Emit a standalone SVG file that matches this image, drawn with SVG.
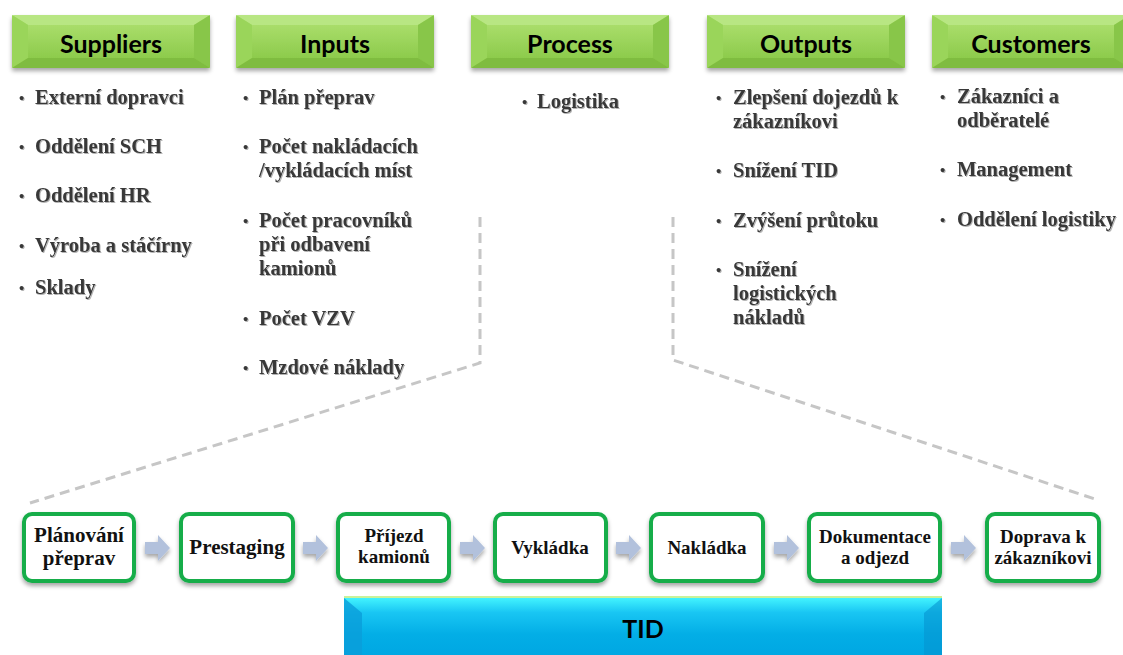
<svg xmlns="http://www.w3.org/2000/svg" xmlns:xlink="http://www.w3.org/1999/xlink" width="1123" height="655" viewBox="0 0 1123 655">
<defs>
<style>
.hdr{font-family:Lato,"Liberation Sans",Arial,sans-serif;font-weight:bold;font-size:25px;fill:#000;text-anchor:middle}
.bl{font-family:"Liberation Serif","Times New Roman",serif;font-weight:bold;font-size:20.5px;fill:#383838}
.bu{font-family:"Liberation Serif","Times New Roman",serif;font-weight:bold;font-size:15px;fill:#383838}
.bx{fill:#fff;stroke:#16ad4a;stroke-width:4}
.bt{font-family:"Liberation Serif","Times New Roman",serif;font-weight:bold;fill:#111;text-anchor:middle}
.dash{fill:none;stroke:#c6c6c6;stroke-width:3;stroke-dasharray:10 6}
.arr{fill:#b2c1dc}
</style>
<linearGradient id="gFront" x1="0" y1="0" x2="0" y2="1">
<stop offset="0" stop-color="#a9dd6a"/>
<stop offset="1" stop-color="#8dcb4c"/>
</linearGradient>
<linearGradient id="gBlue" x1="0" y1="0" x2="0" y2="1">
<stop offset="0" stop-color="#45f6ff"/>
<stop offset="0.25" stop-color="#19c6f3"/>
<stop offset="0.6" stop-color="#03aee6"/>
<stop offset="1" stop-color="#00a6e2"/>
</linearGradient>
<filter id="sh" x="-10%" y="-20%" width="120%" height="150%">
<feDropShadow dx="0" dy="3" stdDeviation="2" flood-color="#000" flood-opacity="0.35"/>
</filter>
<filter id="ts" x="-5%" y="-20%" width="110%" height="150%">
<feDropShadow dx="1" dy="1" stdDeviation="0.7" flood-color="#000" flood-opacity="0.3"/>
</filter>
<symbol id="hdrShape" overflow="visible">
<rect x="0" y="0" width="198" height="53" rx="3" fill="url(#gFront)"/>
<polygon points="0,0 198,0 182,10 16,10" fill="#b8e683"/>
<polygon points="0,0 16,10 16,43 0,53" fill="#9ad55a"/>
<polygon points="198,0 182,10 182,43 198,53" fill="#88c649"/>
<polygon points="0,53 16,43 182,43 198,53" fill="#7fbc3f"/>
<rect x="16" y="10" width="166" height="33" fill="url(#gFront)"/>
</symbol>
<path id="arrShape" d="M0,-6 H13 V-13 L25,0 L13,13 V6 H0 Z"/>
</defs>

<g id="connectors">
<path class="dash" d="M480,217 V363 L30,503"/>
<path class="dash" d="M673,217 V360 L1095,499"/>
<g filter="url(#sh)">
<use href="#arrShape" class="arr" x="145" y="548"/>
<use href="#arrShape" class="arr" x="303" y="548"/>
<use href="#arrShape" class="arr" x="460" y="548"/>
<use href="#arrShape" class="arr" x="616" y="548"/>
<use href="#arrShape" class="arr" x="774" y="548"/>
<use href="#arrShape" class="arr" x="951" y="548"/>
</g>
</g>

<g id="suppliers">
<use href="#hdrShape" x="12" y="15" filter="url(#sh)"/>
<text class="hdr" x="111" y="53">Suppliers</text>
<g filter="url(#ts)">
<text class="bu" x="19" y="103">•</text><text class="bl" x="35" y="104">Externí dopravci</text>
<text class="bu" x="19" y="152">•</text><text class="bl" x="35" y="153">Oddělení SCH</text>
<text class="bu" x="19" y="201">•</text><text class="bl" x="35" y="202">Oddělení HR</text>
<text class="bu" x="19" y="251">•</text><text class="bl" x="35" y="252">Výroba a stáčírny</text>
<text class="bu" x="19" y="293">•</text><text class="bl" x="35" y="294">Sklady</text>
</g>
</g>

<g id="inputs">
<use href="#hdrShape" x="236" y="15" filter="url(#sh)"/>
<text class="hdr" x="335" y="53">Inputs</text>
<g filter="url(#ts)">
<text class="bu" x="243" y="103">•</text><text class="bl" x="259" y="104">Plán přeprav</text>
<text class="bu" x="243" y="152">•</text><text class="bl" x="259" y="153">Počet nakládacích</text>
<text class="bl" x="259" y="177">/vykládacích míst</text>
<text class="bu" x="243" y="226">•</text><text class="bl" x="259" y="227">Počet pracovníků</text>
<text class="bl" x="259" y="251">při odbavení</text>
<text class="bl" x="259" y="275">kamionů</text>
<text class="bu" x="243" y="324">•</text><text class="bl" x="259" y="325">Počet VZV</text>
<text class="bu" x="243" y="373">•</text><text class="bl" x="259" y="374">Mzdové náklady</text>
</g>
</g>

<g id="process">
<use href="#hdrShape" x="471" y="15" filter="url(#sh)"/>
<text class="hdr" x="570" y="53">Process</text>
<g filter="url(#ts)">
<text class="bu" x="522" y="107">•</text><text class="bl" x="537" y="108">Logistika</text>
</g>
</g>

<g id="outputs">
<use href="#hdrShape" x="707" y="15" filter="url(#sh)"/>
<text class="hdr" x="806" y="53">Outputs</text>
<g filter="url(#ts)">
<text class="bu" x="716" y="103">•</text><text class="bl" x="733" y="104">Zlepšení dojezdů k</text>
<text class="bl" x="733" y="128">zákazníkovi</text>
<text class="bu" x="716" y="176">•</text><text class="bl" x="733" y="177">Snížení TID</text>
<text class="bu" x="716" y="226">•</text><text class="bl" x="733" y="227">Zvýšení průtoku</text>
<text class="bu" x="716" y="275">•</text><text class="bl" x="733" y="276">Snížení</text>
<text class="bl" x="733" y="300">logistických</text>
<text class="bl" x="733" y="324">nákladů</text>
</g>
</g>

<g id="customers">
<use href="#hdrShape" x="932" y="15" filter="url(#sh)"/>
<text class="hdr" x="1031" y="53">Customers</text>
<g filter="url(#ts)">
<text class="bu" x="940" y="102">•</text><text class="bl" x="957" y="103">Zákazníci a</text>
<text class="bl" x="957" y="127">odběratelé</text>
<text class="bu" x="940" y="175">•</text><text class="bl" x="957" y="176">Management</text>
<text class="bu" x="940" y="225">•</text><text class="bl" x="957" y="226">Oddělení logistiky</text>
</g>
</g>

<g id="step1">
<rect class="bx" x="24" y="514" width="110" height="67" rx="8" filter="url(#sh)"/>
<text class="bt" x="79" y="542" font-size="21">Plánování</text>
<text class="bt" x="79" y="565" font-size="21">přeprav</text>
</g>
<g id="step2">
<rect class="bx" x="181" y="514" width="112" height="67" rx="8" filter="url(#sh)"/>
<text class="bt" x="237" y="554" font-size="21">Prestaging</text>
</g>
<g id="step3">
<rect class="bx" x="338" y="514" width="111" height="67" rx="8" filter="url(#sh)"/>
<text class="bt" x="394" y="542" font-size="19">Příjezd</text>
<text class="bt" x="394" y="563" font-size="19">kamionů</text>
</g>
<g id="step4">
<rect class="bx" x="495" y="514" width="111" height="67" rx="8" filter="url(#sh)"/>
<text class="bt" x="550" y="554" font-size="19">Vykládka</text>
</g>
<g id="step5">
<rect class="bx" x="651" y="514" width="112" height="67" rx="8" filter="url(#sh)"/>
<text class="bt" x="707" y="554" font-size="19">Nakládka</text>
</g>
<g id="step6">
<rect class="bx" x="809" y="514" width="131" height="67" rx="8" filter="url(#sh)"/>
<text class="bt" x="875" y="543" font-size="19">Dokumentace</text>
<text class="bt" x="875" y="564" font-size="19">a odjezd</text>
</g>
<g id="step7">
<rect class="bx" x="987" y="514" width="112" height="67" rx="8" filter="url(#sh)"/>
<text class="bt" x="1043" y="543" font-size="19">Doprava k</text>
<text class="bt" x="1043" y="564" font-size="19">zákazníkovi</text>
</g>

<g id="tid">
<rect x="344" y="597" width="598" height="62" fill="url(#gBlue)"/>
<line x1="344" y1="597" x2="942" y2="597" stroke="#c9f29a" stroke-width="2"/>
<polygon points="344,598 362,613 362,660 344,660" fill="#0a9ed9" opacity="0.8"/>
<polygon points="942,598 924,613 924,660 942,660" fill="#0594d0" opacity="0.6"/>
<text x="643" y="638" font-family="Lato,'Liberation Sans',Arial,sans-serif" font-weight="bold" font-size="25" text-anchor="middle" fill="#000">TID</text>
</g>
</svg>
